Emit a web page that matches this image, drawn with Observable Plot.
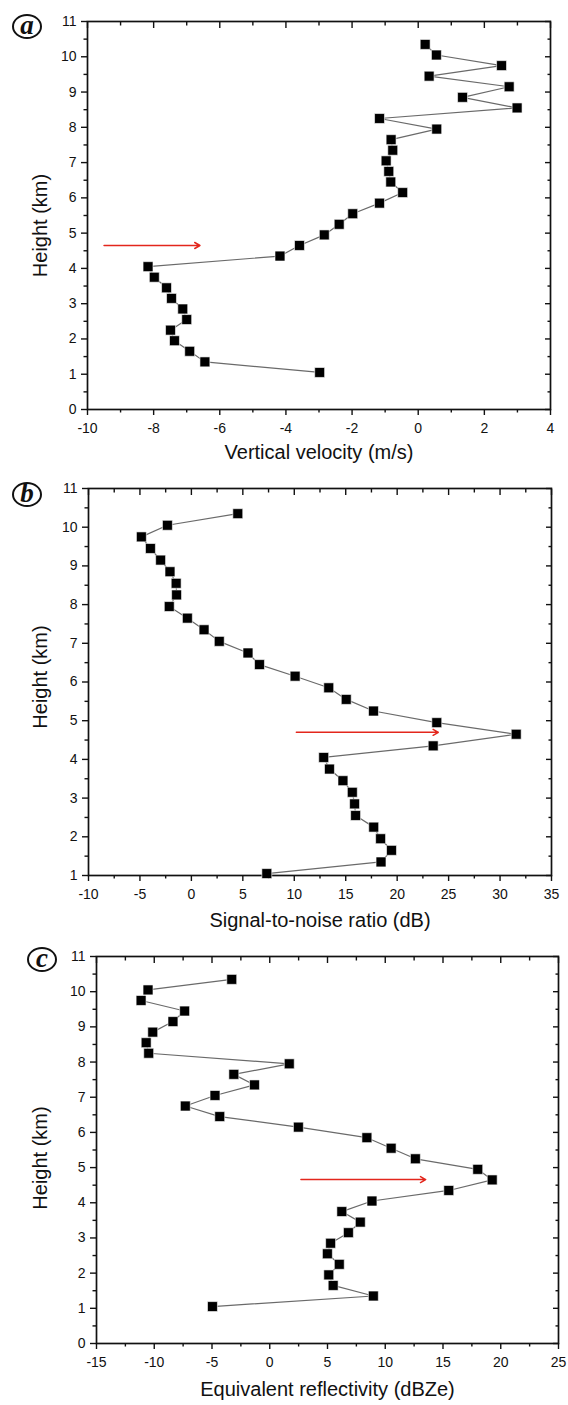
<!DOCTYPE html>
<html>
<head>
<meta charset="utf-8">
<script src="https://cdn.jsdelivr.net/npm/d3@7"></script>
<script src="https://cdn.jsdelivr.net/npm/@observablehq/plot@0.6"></script>
<style>
  html, body { margin: 0; padding: 0; background: #fff; }
  #wrap { position: relative; width: 568px; height: 1405px; overflow: hidden; font-family: "Liberation Sans", Arial, sans-serif; }
  .panel { position: absolute; left: 0; }
  .tag { position: absolute; width: 30px; height: 25px; border: 2.5px solid #111; border-radius: 50%;
         font-family: "Liberation Serif", "Times New Roman", serif; font-style: italic; font-weight: bold;
         font-size: 27px; line-height: 19px; text-align: center; color: #111; box-sizing: border-box; }
</style>
</head>
<body>
<div id="wrap"></div>
<script>
// ---- data ----
const heights = [1.05, 1.35, 1.65, 1.95, 2.25, 2.55, 2.85, 3.15, 3.45, 3.75, 4.05, 4.35, 4.65, 4.95, 5.25, 5.55,
                 5.85, 6.15, 6.45, 6.75, 7.05, 7.35, 7.65, 7.95, 8.25, 8.55, 8.85, 9.15, 9.45, 9.75, 10.05, 10.35];
const verticalVelocity = [-2.98, -6.45, -6.91, -7.37, -7.49, -7.00, -7.12, -7.46, -7.61, -7.98, -8.17, -4.18, -3.59, -2.84, -2.39, -1.98,
                          -1.17, -0.47, -0.83, -0.89, -0.97, -0.77, -0.82, 0.56, -1.17, 2.99, 1.34, 2.75, 0.33, 2.52, 0.55, 0.21];
const snr = [7.33, 18.43, 19.45, 18.39, 17.72, 15.96, 15.86, 15.64, 14.73, 13.42, 12.86, 23.5, 31.57, 23.85, 17.7, 15.05,
             13.35, 10.08, 6.62, 5.5, 2.71, 1.23, -0.39, -2.15, -1.44, -1.48, -2.08, -2.99, -3.98, -4.86, -2.33, 4.51];
const reflectivity = [-4.96, 8.97, 5.49, 5.11, 6.02, 4.99, 5.27, 6.81, 7.84, 6.24, 8.85, 15.5, 19.26, 18.01, 12.61, 10.51,
                      8.41, 2.48, -4.33, -7.31, -4.74, -1.32, -3.11, 1.69, -10.48, -10.7, -10.13, -8.38, -7.37, -11.14, -10.54, -3.29];

// arrows [x1, x2, height]
const arrowA = [-9.5, -6.6, 4.65];
const arrowB = [10.2, 24.0, 4.7];
const arrowC = [2.7, 13.5, 4.66];

// tick labels
const xTicksA = [-10, -8, -6, -4, -2, 0, 2, 4];
const xMinorA = [-9, -7, -5, -3, -1, 1, 3];
const xTicksB = [-10, -5, 0, 5, 10, 15, 20, 25, 30, 35];
const xMinorB = [-7.5, -2.5, 2.5, 7.5, 12.5, 17.5, 22.5, 27.5, 32.5];
const xTicksC = [-15, -10, -5, 0, 5, 10, 15, 20, 25];
const xMinorC = [-12.5, -7.5, -2.5, 2.5, 7.5, 12.5, 17.5, 22.5];
const yTicks0 = [0, 1, 2, 3, 4, 5, 6, 7, 8, 9, 10, 11];
const yMinor0 = [0.5, 1.5, 2.5, 3.5, 4.5, 5.5, 6.5, 7.5, 8.5, 9.5, 10.5];
const yTicks1 = [1, 2, 3, 4, 5, 6, 7, 8, 9, 10, 11];
const yMinor1 = [1.5, 2.5, 3.5, 4.5, 5.5, 6.5, 7.5, 8.5, 9.5, 10.5];

const xLabels = ["Vertical velocity (m/s)", "Signal-to-noise ratio (dB)", "Equivalent reflectivity (dBZe)"];
const yLabel = "Height (km)";
const tags = ["a", "b", "c"];

// ---- drawing ----
function panel(o) {
  const rows = heights.map((h, i) => ({h, v: o.values[i]}));
  const axisStyle = {tickFormat: d => String(d), fontSize: 14, label: null};
  return Plot.plot({
    width: 568, height: o.height,
    marginLeft: o.ml, marginRight: o.mr, marginTop: o.mt, marginBottom: o.mb,
    style: {fontFamily: "'Liberation Sans', Arial, sans-serif", fontSize: "14px", color: "#111", background: "white"},
    x: {domain: o.xDomain},
    y: {domain: o.yDomain},
    marks: [
      Plot.axisX({...axisStyle, ticks: o.xTicks, tickSize: 6, tickPadding: 8, strokeWidth: 1.4}),
      Plot.axisX({ticks: o.xMinor, tickSize: 3.5, text: null, label: null, strokeWidth: 1.4}),
      Plot.axisX({anchor: "top", ticks: o.xTicks, tickSize: -6, text: null, label: null, strokeWidth: 1.4}),
      Plot.axisX({anchor: "top", ticks: o.xMinor, tickSize: -3.5, text: null, label: null, strokeWidth: 1.4}),
      Plot.axisY({...axisStyle, ticks: o.yTicks, tickSize: 6, tickPadding: 5, strokeWidth: 1.4}),
      Plot.axisY({ticks: o.yMinor, tickSize: 3.5, text: null, label: null, strokeWidth: 1.4}),
      Plot.axisY({anchor: "right", ticks: o.yTicks, tickSize: -6, text: null, label: null, strokeWidth: 1.4}),
      Plot.axisY({anchor: "right", ticks: o.yMinor, tickSize: -3.5, text: null, label: null, strokeWidth: 1.4}),
      Plot.frame({stroke: "#111", strokeWidth: 1.7}),
      Plot.line(rows, {x: "v", y: "h", stroke: "#6a6a6a", strokeWidth: 1.2}),
      Plot.dot(rows, {x: "v", y: "h", symbol: "square", r: 5.6, fill: "#000", stroke: "#fff", strokeWidth: 0.6}),
      Plot.arrow([o.arrow], {x1: d => d[0], x2: d => d[1], y1: d => d[2], y2: d => d[2],
                             stroke: "#e3261c", strokeWidth: 1.5, headLength: 6, bend: 0}),
      Plot.text([o.xLabel], {text: d => d, frameAnchor: "bottom", lineAnchor: "middle", dy: o.xLabelDy,
                             fontSize: 20, fill: "#111"}),
      Plot.text([yLabel], {text: d => d, frameAnchor: "left", rotate: -90, lineAnchor: "middle", textAnchor: "middle",
                           dx: -(o.ml - 40), dy: o.yLabelDy, fontSize: 20, fill: "#111"})
    ]
  });
}

const configs = [
  {top: 0, height: 464, ml: 87, mr: 18, mt: 21, mb: 55, values: verticalVelocity, xDomain: [-10, 4], yDomain: [0, 11],
   xTicks: xTicksA, xMinor: xMinorA, yTicks: yTicks0, yMinor: yMinor0, arrow: arrowA, xLabel: xLabels[0],
   xLabelDy: 43, yLabelDy: 10, tag: tags[0], tagX: 12, tagY: 14},
  {top: 464, height: 469, ml: 88, mr: 17, mt: 24, mb: 58, values: snr, xDomain: [-10, 35], yDomain: [1, 11],
   xTicks: xTicksB, xMinor: xMinorB, yTicks: yTicks1, yMinor: yMinor1, arrow: arrowB, xLabel: xLabels[1],
   xLabelDy: 45, yLabelDy: -5, tag: tags[1], tagX: 12, tagY: 482},
  {top: 933, height: 472, ml: 96, mr: 10, mt: 23, mb: 62, values: reflectivity, xDomain: [-15, 25], yDomain: [0, 11],
   xTicks: xTicksC, xMinor: xMinorC, yTicks: yTicks0, yMinor: yMinor0, arrow: arrowC, xLabel: xLabels[2],
   xLabelDy: 46, yLabelDy: 8, tag: tags[2], tagX: 27, tagY: 947}
];

const wrap = document.getElementById("wrap");
for (const c of configs) {
  const div = document.createElement("div");
  div.className = "panel";
  div.style.top = c.top + "px";
  div.appendChild(panel(c));
  wrap.appendChild(div);
  const t = document.createElement("div");
  t.className = "tag";
  t.style.left = c.tagX + "px";
  t.style.top = c.tagY + "px";
  t.textContent = c.tag;
  wrap.appendChild(t);
}
</script>
</body>
</html>
